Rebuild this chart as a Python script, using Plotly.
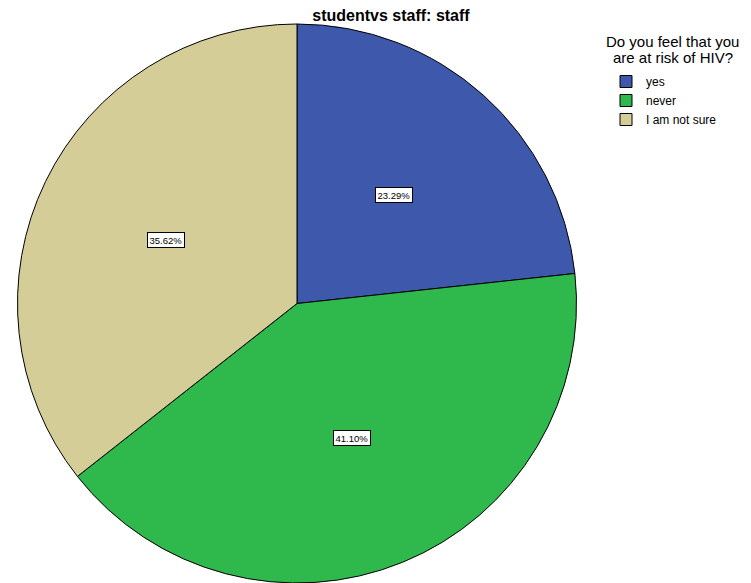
import math
import plotly.graph_objects as go

categories = ["yes", "never", "I am not sure"]
counts = [17, 30, 26]
colors = ["#3e58ac", "#2fb84b", "#d4cd98"]
title_text = "studentvs staff: staff"
legend_title_lines = ["Do you feel that you", "are at risk of HIV?"]

W, H = 751, 583
cx_px, cy_px = 297, 303.5
r_px = H - cy_px  # limited by bottom of figure

dom_x = [(cx_px - r_px) / W, (cx_px + r_px) / W]
dom_y = [0, 2 * r_px / H]

FONT = "Liberation Sans, Arial"

fig = go.Figure(go.Pie(
    labels=categories,
    values=counts,
    sort=False,
    direction="clockwise",
    rotation=0,
    marker=dict(colors=colors, line=dict(color="black", width=1)),
    textinfo="none",
    hoverinfo="label+percent",
    domain=dict(x=dom_x, y=dom_y),
))

total = sum(counts)
cum = 0
for v in counts:
    mid = (cum + v / 2) / total * 2 * math.pi
    cum += v
    d = 0.52 * r_px
    px = cx_px + math.sin(mid) * d
    py = cy_px - math.cos(mid) * d
    fig.add_annotation(
        x=px / W, y=1 - py / H, xref="paper", yref="paper",
        xanchor="center", yanchor="middle",
        text=f"{v / total * 100:.2f}%", showarrow=False,
        font=dict(family=FONT, size=9.5, color="black"),
        bgcolor="white", bordercolor="black", borderwidth=1, borderpad=1.5,
    )

for i, line in enumerate(legend_title_lines):
    fig.add_annotation(
        x=672.5 / W, y=1 - (41 + 16 * i) / H, xref="paper", yref="paper",
        xanchor="center", yanchor="middle",
        text=line, showarrow=False, borderpad=0,
        font=dict(family=FONT, size=15, color="black"),
    )

fig.update_layout(
    width=W, height=H,
    margin=dict(l=0, r=0, t=0, b=0),
    paper_bgcolor="white", plot_bgcolor="white",
    title=dict(text=f"<b>{title_text}</b>", x=391 / W, xanchor="center",
               y=1 - 15 / H, yanchor="middle",
               font=dict(family=FONT, size=16, color="black")),
    legend=dict(x=606 / W, y=1 - 67 / H, xanchor="left", yanchor="top",
                font=dict(family=FONT, size=12, color="black"),
                tracegroupgap=0, itemwidth=30, bgcolor="rgba(0,0,0,0)"),
    showlegend=True,
)

fig.write_html("out.html", config={"displayModeBar": False},
               post_script="document.body.style.margin='0';document.body.style.padding='0';")
